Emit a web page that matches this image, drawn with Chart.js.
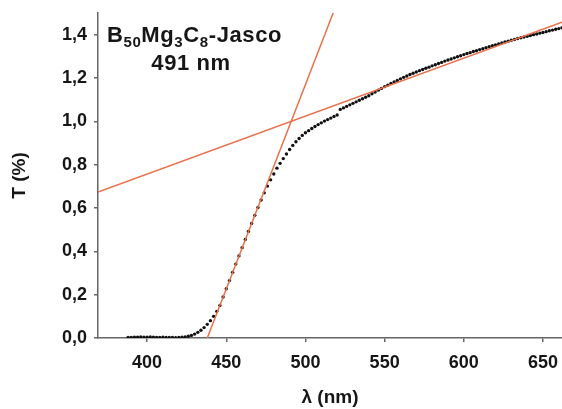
<!DOCTYPE html>
<html>
<head>
<meta charset="utf-8">
<script src="https://cdn.jsdelivr.net/npm/chart.js@4.4.1/dist/chart.umd.min.js"></script>
<style>
    html, body { margin: 0; background: #fff; }
</style>
</head>
<body>
<canvas id="canvas" width="562" height="409"></canvas>
<script>
// Длины волн, нм.
const wavelengths = [
    388, 390, 392, 394, 396, 398, 400, 402, 404, 406, 408, 410, 412, 414, 416, 418, 420, 422, 424,
    426, 428, 430, 432, 434, 436, 438, 440, 442, 444, 446, 448, 450, 452, 454, 456, 458, 460, 462,
    464, 466, 468, 470, 472, 474, 476, 478, 480, 482, 484, 486, 488, 490, 492, 494, 496, 498, 500,
    502, 504, 506, 508, 510, 512, 514, 516, 518, 520, 522, 524, 526, 528, 530, 532, 534, 536, 538,
    540, 542, 544, 546, 548, 550, 552, 554, 556, 558, 560, 562, 564, 566, 568, 570, 572, 574, 576,
    578, 580, 582, 584, 586, 588, 590, 592, 594, 596, 598, 600, 602, 604, 606, 608, 610, 612, 614,
    616, 618, 620, 622, 624, 626, 628, 630, 632, 634, 636, 638, 640, 642, 644, 646, 648, 650, 652,
    654, 656, 658, 660, 662,
]

// Пропускание, %.
const transmittance = [
    0.003, 0.003, 0.004, 0.004, 0.005, 0.004, 0.004, 0.005, 0.004, 0.003, 0.003, 0.004, 0.003, 0.002, 0.002, 0.001, 0.002, 0.004, 0.005,
    0.008, 0.012, 0.018, 0.026, 0.036, 0.048, 0.063, 0.080, 0.100, 0.123, 0.150, 0.189, 0.227, 0.265, 0.303, 0.341, 0.379, 0.417, 0.455,
    0.492, 0.529, 0.566, 0.602, 0.637, 0.670, 0.701, 0.730, 0.757, 0.784, 0.806, 0.828, 0.849, 0.870, 0.889, 0.906, 0.921, 0.935, 0.947,
    0.957, 0.967, 0.976, 0.985, 0.993, 1.001, 1.008, 1.015, 1.022, 1.029, 1.055, 1.062, 1.069, 1.076, 1.083, 1.090, 1.097, 1.104, 1.111,
    1.118, 1.127, 1.135, 1.144, 1.152, 1.160, 1.167, 1.175, 1.182, 1.189, 1.196, 1.203, 1.209, 1.216, 1.222, 1.228, 1.234, 1.239, 1.245,
    1.250, 1.256, 1.261, 1.267, 1.272, 1.278, 1.283, 1.288, 1.293, 1.298, 1.303, 1.308, 1.313, 1.317, 1.322, 1.326, 1.331, 1.335, 1.340,
    1.344, 1.349, 1.353, 1.357, 1.362, 1.366, 1.370, 1.374, 1.378, 1.382, 1.386, 1.389, 1.393, 1.396, 1.400, 1.403, 1.407, 1.410, 1.414,
    1.418, 1.421, 1.425, 1.428, 1.432,
]

// Касательная к крутому участку края поглощения.
const steepLineX = [438, 517.5]
const steepLineY = [0, 1.5]

// Касательная к пологому участку.
const flatLineX = [369, 662]
const flatLineY = [0.674, 1.457]

const textColor = '#161616'
const axisColor = '#666'
const lineColor = '#e8704a'

Chart.defaults.font.family = '"Liberation Sans", Arial, sans-serif'
Chart.defaults.font.weight = 'bold'
Chart.defaults.color = textColor

// Подпись образца в левом верхнем углу.
const sampleLabel = {
    id: 'sampleLabel',
    afterDraw(chart) {
        const ctx = chart.ctx
        ctx.save()
        ctx.fillStyle = textColor
        ctx.textBaseline = 'alphabetic'
        ctx.textAlign = 'left'
        ctx.letterSpacing = '0.6px'

        const parts = [
            ['B', false], ['50', true], ['Mg', false], ['3', true],
            ['C', false], ['8', true], ['-Jasco', false],
        ]
        let x = 107
        parts.forEach(([text, sub]) => {
            ctx.font = sub ? 'bold 15px "Liberation Sans", Arial' : 'bold 22px "Liberation Sans", Arial'
            ctx.fillText(text, x, sub ? 47 : 42)
            x += ctx.measureText(text).width
        })

        ctx.font = 'bold 22px "Liberation Sans", Arial'
        ctx.textAlign = 'center'
        ctx.fillText('491 nm', 191, 70)
        ctx.restore()
    },
}

const points = wavelengths.map((x, i) => ({ x, y: transmittance[i] }))

new Chart(document.querySelector('#canvas'), {
    type: 'scatter',
    data: {
        datasets: [
            {
                type: 'line',
                data: steepLineX.map((x, i) => ({ x, y: steepLineY[i] })),
                borderColor: lineColor,
                borderWidth: 1.5,
                pointRadius: 0,
            },
            {
                type: 'line',
                data: flatLineX.map((x, i) => ({ x, y: flatLineY[i] })),
                borderColor: lineColor,
                borderWidth: 1.5,
                pointRadius: 0,
            },
            {
                data: points,
                backgroundColor: '#111',
                borderWidth: 0,
                pointRadius: 1.7,
            },
        ],
    },
    options: {
        responsive: false,
        animation: false,
        layout: { autoPadding: false, padding: { top: 13, left: 0, right: 0, bottom: 0 } },
        plugins: {
            legend: { display: false },
            tooltip: { enabled: false },
        },
        scales: {
            x: {
                type: 'linear',
                min: 369,
                max: 662,
                afterFit: scale => {
                    scale.height = 71
                    scale.paddingLeft = 0
                    scale.paddingRight = 0
                },
                afterBuildTicks: scale => {
                    scale.ticks = scale.ticks.filter(t => t.value % 50 === 0)
                },
                border: { display: true, color: axisColor, width: 1.5 },
                grid: { drawOnChartArea: false, drawTicks: true, tickLength: 4, color: axisColor, lineWidth: 1.5 },
                ticks: {
                    stepSize: 50,
                    includeBounds: false,
                    padding: 10,
                    font: { size: 18, weight: 'bold' },
                    color: textColor,
                    maxRotation: 0,
                },
                title: {
                    display: true,
                    text: 'λ (nm)',
                    font: { size: 19, weight: 'bold' },
                    color: textColor,
                    padding: { top: 0, bottom: 0 },
                },
            },
            y: {
                min: 0,
                max: 1.5,
                afterFit: scale => {
                    scale.width = 98
                    scale.paddingTop = 0
                    scale.paddingBottom = 0
                },
                afterBuildTicks: scale => {
                    scale.ticks = scale.ticks.filter(t => Math.abs(t.value * 5 - Math.round(t.value * 5)) < 1e-6)
                },
                border: { display: true, color: axisColor, width: 1.5 },
                grid: { drawOnChartArea: false, drawTicks: true, tickLength: 4, color: axisColor, lineWidth: 1.5 },
                ticks: {
                    stepSize: 0.2,
                    includeBounds: false,
                    padding: 7,
                    font: { size: 18, weight: 'bold' },
                    color: textColor,
                    callback: v => v.toFixed(1).replace('.', ','),
                },
                title: {
                    display: true,
                    text: 'T (%)',
                    font: { size: 19, weight: 'bold' },
                    color: textColor,
                    padding: { top: 8, bottom: 0 },
                },
            },
        },
    },
    plugins: [sampleLabel],
})
</script>
</body>
</html>
